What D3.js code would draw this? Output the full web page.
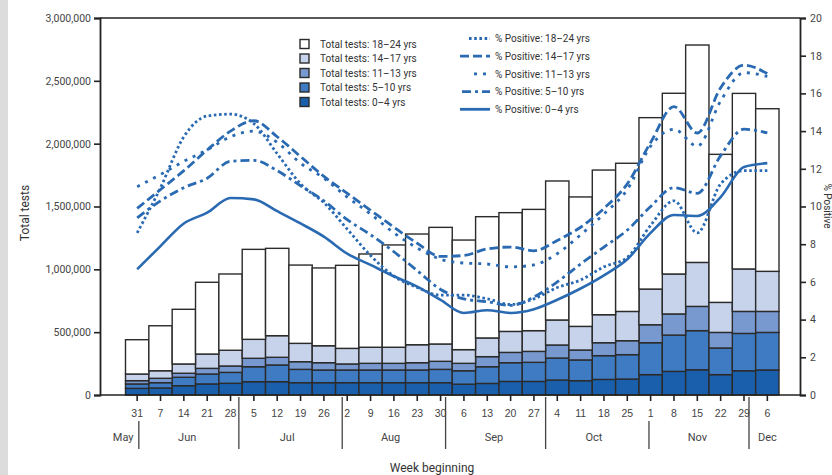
<!DOCTYPE html>
<html>
<head>
<meta charset="utf-8">
<script src="https://cdn.jsdelivr.net/npm/d3@7"></script>
<style>
  html, body { margin: 0; padding: 0; background: #fff; }
  svg { display: block; font-family: Roboto, "Noto Sans", sans-serif; }
</style>
</head>
<body>
<svg id="chart" width="832" height="475"></svg>
<script>
// Weekly test volumes by age group, with weekly percent positive.
const weekStarts = [
  "2020-05-31","2020-06-07","2020-06-14","2020-06-21","2020-06-28",
  "2020-07-05","2020-07-12","2020-07-19","2020-07-26",
  "2020-08-02","2020-08-09","2020-08-16","2020-08-23","2020-08-30",
  "2020-09-06","2020-09-13","2020-09-20","2020-09-27",
  "2020-10-04","2020-10-11","2020-10-18","2020-10-25",
  "2020-11-01","2020-11-08","2020-11-15","2020-11-22","2020-11-29",
  "2020-12-06"
];

const ageGroups = ["0–4 yrs", "5–10 yrs", "11–13 yrs", "14–17 yrs", "18–24 yrs"];

const tests0to4 = [53000, 56000, 74000, 88000, 93000, 106000, 106000, 98000, 98000, 98000, 98000, 98000, 98000, 98000, 86000, 92000, 108000, 108000, 119000, 114000, 124000, 127000, 162000, 188000, 201000, 162000, 193000, 199000];
const tests5to10 = [35000, 42000, 67000, 79000, 87000, 119000, 133000, 106000, 101000, 101000, 101000, 101000, 101000, 106000, 107000, 133000, 149000, 152000, 175000, 165000, 189000, 194000, 254000, 289000, 311000, 212000, 297000, 299000];
const tests11to13 = [26000, 35000, 32000, 45000, 51000, 67000, 61000, 61000, 58000, 48000, 53000, 53000, 58000, 64000, 59000, 80000, 82000, 87000, 104000, 79000, 103000, 111000, 143000, 168000, 193000, 124000, 175000, 167000];
const tests14to17 = [53000, 60000, 74000, 114000, 125000, 151000, 172000, 146000, 135000, 124000, 128000, 128000, 143000, 138000, 109000, 149000, 167000, 165000, 199000, 188000, 223000, 233000, 284000, 318000, 350000, 239000, 338000, 319000];
const tests18to24 = [273000, 358000, 435000, 571000, 607000, 716000, 695000, 623000, 619000, 661000, 742000, 814000, 881000, 928000, 872000, 965000, 945000, 965000, 1106000, 1030000, 1151000, 1179000, 1364000, 1438000, 1730000, 1178000, 1397000, 1294000];

const pos0to4 = [6.67, 7.9, 9.1, 9.67, 10.45, 10.38, 9.75, 9.1, 8.4, 7.5, 6.9, 6.3, 5.75, 5.05, 4.35, 4.5, 4.35, 4.55, 5.05, 5.65, 6.35, 7.2, 8.6, 9.55, 9.5, 10.5, 12.1, 12.3];
const pos5to10 = [9.4, 10.3, 11.0, 11.5, 12.4, 12.45, 11.9, 11.1, 10.3, 9.3, 8.5, 7.6, 6.6, 5.6, 5.1, 4.95, 4.75, 5.2, 6.0, 6.95, 7.85, 8.75, 10.0, 11.0, 10.7, 12.7, 14.1, 13.9];
const pos11to13 = [11.05, 11.7, 12.4, 13.0, 13.7, 14.0, 13.4, 12.3, 11.5, 10.5, 9.6, 8.6, 7.8, 7.2, 7.0, 6.95, 6.8, 6.9, 7.5, 8.5, 9.6, 10.9, 13.2, 14.1, 13.2, 15.6, 17.1, 16.9];
const pos14to17 = [9.9, 10.9, 11.9, 13.0, 14.0, 14.55, 13.7, 12.65, 11.6, 10.7, 9.8, 8.9, 8.05, 7.35, 7.4, 7.75, 7.85, 7.65, 8.2, 8.9, 9.9, 11.2, 13.4, 15.3, 13.9, 16.3, 17.5, 17.05];
const pos18to24 = [8.6, 11.0, 13.7, 14.8, 14.9, 14.4, 12.8, 11.2, 10.2, 8.8, 7.4, 6.3, 5.7, 5.3, 5.3, 5.1, 4.8, 5.1, 5.7, 6.1, 6.8, 7.3, 9.0, 10.3, 8.6, 11.2, 11.9, 11.9];

const leftTicks = [0, 500000, 1000000, 1500000, 2000000, 2500000, 3000000];
const rightTicks = [0, 2, 4, 6, 8, 10, 12, 14, 16, 18, 20];
const monthNames = ["Jan","Feb","Mar","Apr","May","Jun","Jul","Aug","Sep","Oct","Nov","Dec"];

// ---- layout ----
const svg = d3.select("#chart");
const plot = { left: 100, right: 800, top: 18, bottom: 395 };
const lineBlue = "#2a6ab2";
const fills = ["#1a5fab", "#3e7bc2", "#7898d0", "#c6d3ea", "#ffffff"];

svg.append("rect").attr("x", 0).attr("y", 0).attr("width", 832).attr("height", 475).attr("fill", "#fff");
svg.append("rect").attr("x", 0).attr("y", 0).attr("width", 8).attr("height", 475).attr("fill", "#dcdcdc");

const parse = d3.timeParse("%Y-%m-%d");
const dates = weekStarts.map(parse);

const x = d3.scaleBand().domain(weekStarts).range([125.5, 779]).padding(0);
const bw = x.bandwidth();
const cx = d => x(d) + bw / 2;

const yL = d3.scaleLinear().domain([0, 3000000]).range([plot.bottom, plot.top]);
const yR = d3.scaleLinear().domain([0, 20]).range([plot.bottom, plot.top]);

// date -> pixel, aligned with band centres
const xt = d3.scaleTime().domain([dates[0], dates[dates.length - 1]])
  .range([cx(weekStarts[0]), cx(weekStarts[weekStarts.length - 1])]);

// ---- stacked bars ----
const seriesTests = [tests0to4, tests5to10, tests11to13, tests14to17, tests18to24];
const rows = weekStarts.map((w, i) => {
  const r = { week: w };
  ageGroups.forEach((g, k) => r[g] = seriesTests[k][i]);
  return r;
});
const stacked = d3.stack().keys(ageGroups)(rows);

const barG = svg.append("g");
stacked.forEach((layer, k) => {
  barG.append("g").selectAll("rect").data(layer).join("rect")
    .attr("x", d => x(d.data.week))
    .attr("width", bw)
    .attr("y", d => yL(d[1]))
    .attr("height", d => yL(d[0]) - yL(d[1]))
    .attr("fill", fills[k])
    .attr("stroke", "#2b2b2b")
    .attr("stroke-width", 1.4);
});

// ---- percent-positive lines ----
const seriesPos = [pos0to4, pos5to10, pos11to13, pos14to17, pos18to24];
const dashes = [null, "9,4,3,4", "3,6", "9,4", "2.6,2.6"];
const line = d3.line()
  .x((d, i) => cx(weekStarts[i]))
  .y(d => yR(d))
  .curve(d3.curveMonotoneX);

const lineG = svg.append("g");
[4, 3, 2, 1, 0].forEach(k => {
  lineG.append("path")
    .datum(seriesPos[k])
    .attr("d", line)
    .attr("fill", "none")
    .attr("stroke", lineBlue)
    .attr("stroke-width", k === 0 ? 2.6 : 2.8)
    .attr("stroke-dasharray", dashes[k]);
});

// ---- frame and axes ----
const frame = svg.append("g").attr("stroke", "#222").attr("stroke-width", 1.6).attr("fill", "none");
frame.append("line").attr("x1", plot.left).attr("x2", plot.right).attr("y1", plot.top).attr("y2", plot.top);
frame.append("line").attr("x1", plot.left).attr("x2", plot.right).attr("y1", plot.bottom).attr("y2", plot.bottom);

const axL = svg.append("g").attr("transform", `translate(${plot.left},0)`)
  .call(d3.axisLeft(yL).tickValues(leftTicks).tickFormat(d3.format(",")).tickSize(6).tickPadding(3));
const axR = svg.append("g").attr("transform", `translate(${plot.right},0)`)
  .call(d3.axisRight(yR).tickValues(rightTicks).tickSize(6).tickPadding(4));
[axL, axR].forEach(a => {
  a.select(".domain").attr("stroke", "#222").attr("stroke-width", 1.8);
  a.selectAll(".tick line").attr("stroke", "#222").attr("stroke-width", 1.6);
  a.selectAll(".tick text").attr("fill", "#444").attr("font-size", 10.5)
    .attr("font-family", "Roboto, sans-serif");
});

const axB = svg.append("g").attr("transform", `translate(0,${plot.bottom})`)
  .call(d3.axisBottom(x).tickSize(6).tickPadding(9).tickFormat(d => String(parse(d).getDate())));
axB.select(".domain").remove();
axB.selectAll(".tick line").attr("stroke", "#222").attr("stroke-width", 1.6);
axB.selectAll(".tick text").attr("fill", "#444").attr("font-size", 10.5);

// month separators and names
const halfDay = bw / 14;
const months = [];
for (let m = 4; m <= 11; m++) months.push(new Date(2020, m, 1));
const sepG = svg.append("g").attr("stroke", "#444").attr("stroke-width", 1.3);
months.slice(1).forEach(d => {
  const sx = xt(d) - halfDay;
  const nearTick = weekStarts.some(w => Math.abs(cx(w) - sx) < 3);
  sepG.append("line").attr("x1", sx).attr("x2", sx)
    .attr("y1", nearTick ? 421 : 397).attr("y2", 449);
});
const xmin = cx(weekStarts[0]) - 14, xmax = cx(weekStarts[weekStarts.length - 1]);
svg.append("g").selectAll("text").data(months).join("text")
  .attr("x", d => Math.max(xmin, Math.min(xmax, xt(new Date(2020, d.getMonth(), 15)))))
  .attr("y", 441)
  .attr("text-anchor", "middle")
  .attr("font-size", 11)
  .attr("fill", "#444")
  .text(d => monthNames[d.getMonth()]);

// axis titles
svg.append("text").attr("x", 432).attr("y", 472).attr("text-anchor", "middle")
  .attr("font-size", 12).attr("fill", "#333").text("Week beginning");
svg.append("text").attr("transform", "translate(29,213) rotate(-90)").attr("text-anchor", "middle")
  .attr("font-size", 12).attr("fill", "#333").text("Total tests");
svg.append("text").attr("transform", "translate(823.5,206) rotate(90)").attr("text-anchor", "middle")
  .attr("font-size", 10).attr("fill", "#333").text("% Positive");

// ---- legends ----
const legBars = svg.append("g");
const barOrder = [4, 3, 2, 1, 0];
barOrder.forEach((k, j) => {
  const ly = 44 + j * 14.5;
  legBars.append("rect").attr("x", 300).attr("y", ly - 4.5).attr("width", 9).attr("height", 9)
    .attr("fill", fills[k]).attr("stroke", "#2b2b2b").attr("stroke-width", 1.4);
  legBars.append("text").attr("x", 320).attr("y", ly + 3.6).attr("font-size", 10)
    .attr("fill", "#333").text("Total tests: " + ageGroups[k]);
});

const legLines = svg.append("g");
const sampleStart = [460, 462, 474, 460, 469];
barOrder.forEach((k, j) => {
  const ly = 38.5 + j * 17.7;
  legLines.append("line").attr("x1", sampleStart[k]).attr("x2", 490).attr("y1", ly).attr("y2", ly)
    .attr("stroke", lineBlue).attr("stroke-width", 2.8)
    .attr("stroke-dasharray", dashes[k]);
  legLines.append("text").attr("x", 495).attr("y", ly + 3.6).attr("font-size", 10)
    .attr("fill", "#333").text("% Positive: " + ageGroups[k]);
});
</script>
</body>
</html>
